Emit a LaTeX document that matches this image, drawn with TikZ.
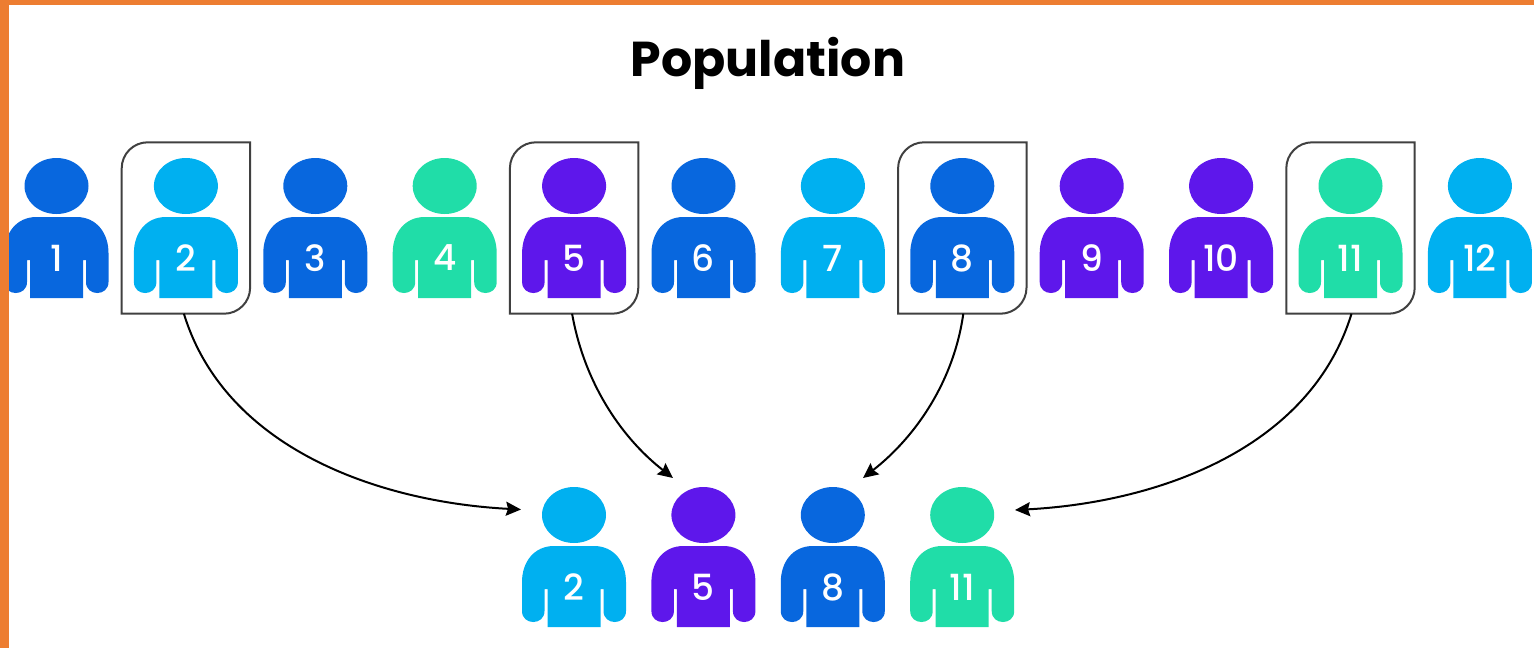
\documentclass[tikz,border=0pt]{standalone}
\usepackage{fontspec}
\setmainfont{Poppins}
\newfontfamily\numfont{Poppins Medium}
\usepackage{xcolor}
\definecolor{PopBlue}{RGB}{8,103,222}
\definecolor{PopCyan}{RGB}{0,176,240}
\definecolor{PopPurple}{RGB}{94,23,235}
\definecolor{PopGreen}{RGB}{32,221,168}
\definecolor{EdgeOrange}{RGB}{237,125,49}
\definecolor{PickGray}{RGB}{64,64,64}
\usetikzlibrary{positioning}
\usetikzlibrary{arrows.meta}

\begin{document}
\begin{tikzpicture}[
    x = 1pt
    , y = -1pt
    , person/.style 2 args = {
      , rectangle
      , minimum width = 106pt
      , minimum height = 142pt
      , inner sep = 0pt
      , path picture = {
        \fill[#1, shift={(path picture bounding box.center)}]
          (0,-42) ellipse [x radius=32, y radius=28]
          (-20,-11) -- (20,-11) .. controls (40,-11) and (52,5) .. (52,25)
          -- (52,54) .. controls (52,68.7) and (29.5,68.7) .. (29.5,54)
          -- (29.5,32) -- (26.5,32) -- (26.5,70) -- (-26.5,70) -- (-26.5,32) -- (-29.5,32)
          -- (-29.5,54) .. controls (-29.5,68.7) and (-52,68.7) .. (-52,54)
          -- (-52,25) .. controls (-52,5) and (-40,-11) .. (-20,-11) -- cycle;
      }
      , label = {[numlabel]center:#2}
    }
    , numlabel/.style = {
      , yshift = -30pt
      , text = white
      , inner sep = 0pt
      , font = \fontsize{36}{36}\numfont
    }
    , pickbox/.style = {
      , rectangle
      , minimum width = 128pt
      , minimum height = 171pt
      , inner sep = 0pt
    }
    , pickline/.style = {
      , draw = PickGray
      , line width = 2pt
    }
    , pickarrow/.style = {
      , -{Stealth[length=15pt, width=14pt, inset=2pt]}
      , draw = black
      , line width = 2pt
    }
    , on grid
    , node distance = 129.4pt
    ]
    \useasboundingbox (0,0) rectangle (1534,648);

    \node[font=\fontsize{49}{49}\selectfont\bfseries] (title) at (768,63) {Population};

    \node[person={PopBlue}{1}] (p1) at (56.5,228) {};
    \node[person={PopCyan}{2}, right = of p1] (p2) {};
    \node[person={PopBlue}{3}, right = of p2] (p3) {};
    \node[person={PopGreen}{4}, right = of p3] (p4) {};
    \node[person={PopPurple}{5}, right = of p4] (p5) {};
    \node[person={PopBlue}{6}, right = of p5] (p6) {};
    \node[person={PopCyan}{7}, right = of p6] (p7) {};
    \node[person={PopBlue}{8}, right = of p7] (p8) {};
    \node[person={PopPurple}{9}, right = of p8] (p9) {};
    \node[person={PopPurple}{10}, right = of p9] (p10) {};
    \node[person={PopGreen}{11}, right = of p10] (p11) {};
    \node[person={PopCyan}{12}, right = of p11] (p12) {};

    \node[person={PopCyan}{2}] (s1) at (574,557) {};
    \node[person={PopPurple}{5}, right = of s1] (s2) {};
    \node[person={PopBlue}{8}, right = of s2] (s3) {};
    \node[person={PopGreen}{11}, right = of s3] (s4) {};

    \node[pickbox] at (p2) (pick1) {};
    \node[pickbox] at (p5) (pick2) {};
    \node[pickbox] at (p8) (pick3) {};
    \node[pickbox] at (p11) (pick4) {};

    \foreach \pick in {pick1,pick2,pick3,pick4} {
      \draw[pickline] (\pick.north east) [rounded corners=26pt] -- (\pick.south east)
        [sharp corners] -- (\pick.south west) [rounded corners=26pt] -- (\pick.north west)
        [sharp corners] -- cycle;
    }

    \coordinate (in1) at (521,509.5);
    \coordinate (in2) at (673,478);
    \coordinate (in3) at (863,478);
    \coordinate (in4) at (1015,510);

    \draw[pickarrow] ([xshift=-2pt]pick1.south) to[out=-73, in=177, looseness=0.93] (in1);
    \draw[pickarrow] ([xshift=-2pt]pick2.south) to[out=-80, in=142, looseness=0.9] (in2);
    \draw[pickarrow] ([xshift=1pt]pick3.south) to[out=-98, in=38, looseness=0.9] (in3);
    \draw[pickarrow] ([xshift=1pt]pick4.south) to[out=-107, in=3, looseness=0.93] (in4);

    % the orange edge lies over the first figure
    \fill[EdgeOrange] (0,0) rectangle (1534,5);
    \fill[EdgeOrange] (0,0) rectangle (9,648);
  \end{tikzpicture}
\end{document}
